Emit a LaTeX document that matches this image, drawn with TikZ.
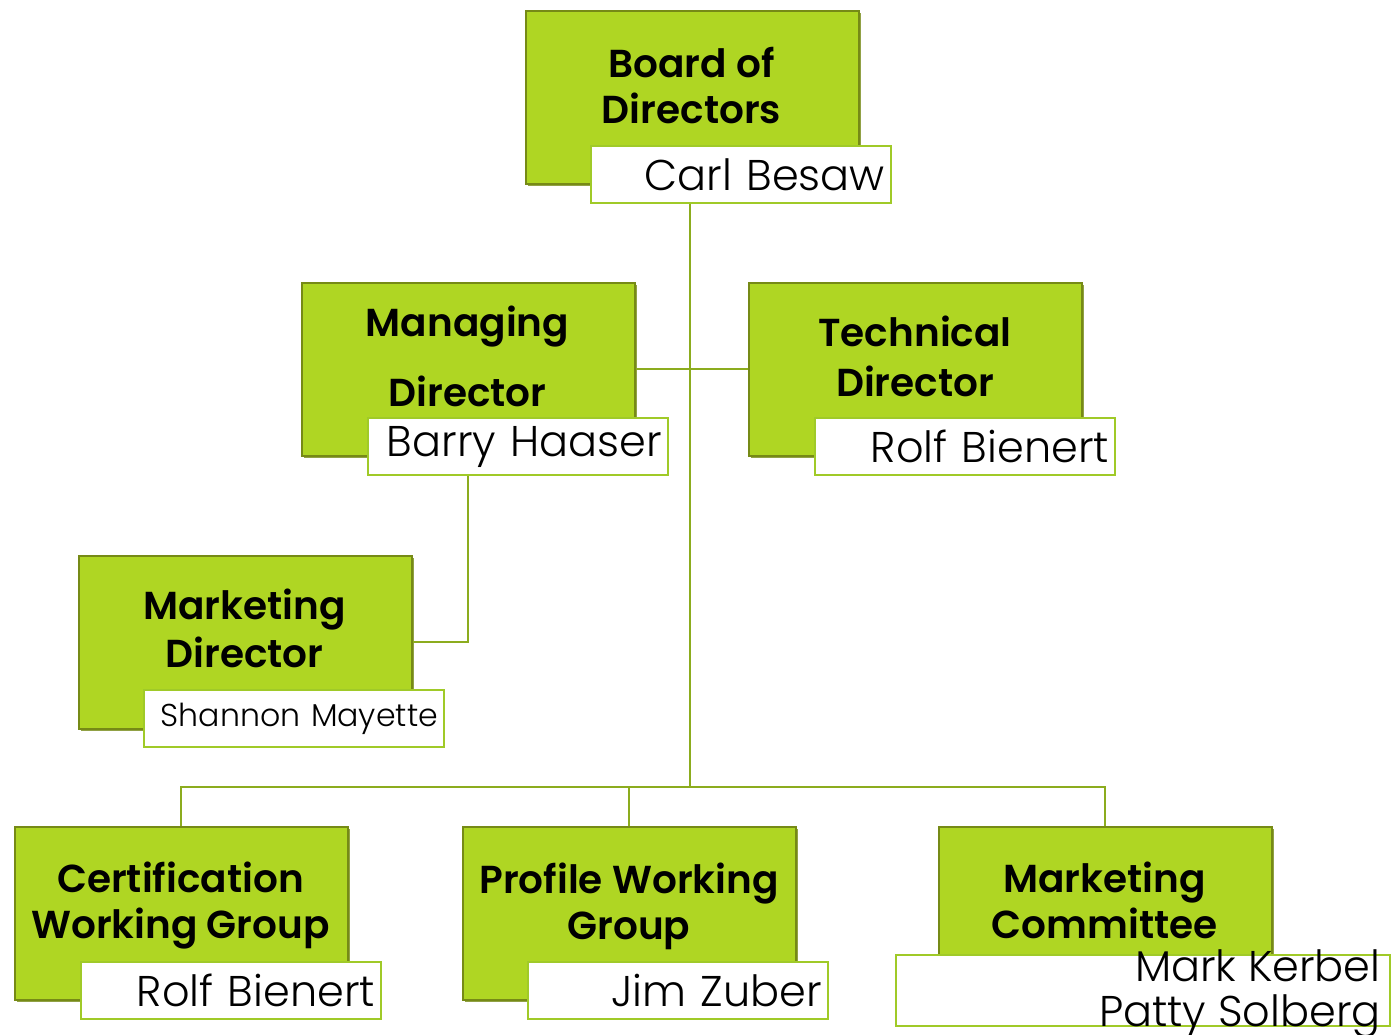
\documentclass[tikz,border=0pt]{standalone}
\usepackage{fontspec}
\setmainfont{Poppins}
\newfontfamily\titlefont{Poppins}[UprightFont=* SemiBold]
\newfontfamily\namefont{Poppins}[UprightFont=* Light]
\usepackage{xcolor}
\usetikzlibrary{positioning,shadows,calc}
\definecolor{unitgreen}{RGB}{175,214,35}
\definecolor{unitedge}{RGB}{118,138,22}
\definecolor{nameedge}{RGB}{160,202,40}
\definecolor{linkgreen}{RGB}{140,172,30}

\begin{document}
\begin{tikzpicture}[x=0.5pt,y=-0.5pt,
	unitbox/.style={fill=unitgreen, draw=unitedge, line width=0.8pt, minimum width=166.5pt, minimum height=86.5pt, inner sep=0pt,
		drop shadow={shadow xshift=1pt, shadow yshift=-1pt, fill=unitedge, opacity=0.8}},
	titletext/.style={font=\titlefont\fontsize{19.5}{23}\selectfont, align=center, inner sep=0pt},
	namebox/.style={fill=white, draw=nameedge, line width=1pt, minimum width=150pt, minimum height=28.5pt, text width=144pt, align=right,
		inner sep=2pt, font=\namefont\fontsize{21.5}{23}\selectfont},
	link/.style={draw=linkgreen, line width=1pt}]
\useasboundingbox (0,0) rectangle (1392,1034);

% top level
\node[unitbox, anchor=north west] (board) at (525,10) {};
\node[titletext] (boardT) at (691.5,85) {Board of\\Directors};
\node[namebox, anchor=north west] (boardN) at (590,145) {Carl Besaw};

% directors
\node[unitbox, anchor=north west] (mgd) at (301,282) {};
\node[titletext] (mgdT) at (467.5,356) {Managing\\[12pt]Director};
\node[namebox, anchor=north west] (mgdN) at (367,417) {Barry Haaser};

\node[unitbox, anchor=north west] (tech) at (748,282) {};
\node[titletext] (techT) at (915,356) {Technical\\[2pt]Director};
\node[namebox, anchor=north west] (techN) at (814,417) {Rolf Bienert};

\node[unitbox, anchor=north west] (mkd) at (78,555) {};
\node[titletext] (mkdT) at (244.5,628) {Marketing\\[1pt]Director};
\node[namebox, anchor=north west, font=\namefont\fontsize{15.8}{17}\selectfont] (mkdN) at (143,689) {Shannon Mayette};

% working groups
\node[unitbox, anchor=north west] (cert) at (14,826) {};
\node[titletext] (certT) at (180.5,906) {Certification\\Working Group};
\node[namebox, anchor=north west] (certN) at (80,961) {Rolf Bienert};

\node[unitbox, anchor=north west] (prof) at (462,826) {};
\node[titletext] (profT) at (629,906) {Profile Working\\Group};
\node[namebox, anchor=north west] (profN) at (527,961) {Jim Zuber};

\node[unitbox, anchor=north west] (comm) at (938,826) {};
\node[titletext] (commT) at (1104.5,900) {Marketing\\Committee};
\node[namebox, anchor=north west, minimum width=247pt, minimum height=35.5pt] (commN) at (895,954) {};
\node[anchor=north east, align=right, inner sep=0pt, font=\namefont\fontsize{21.5}{22.5}\selectfont] (commL) at (1381,949) {Mark Kerbel\\Patty Solberg};

% connectors
\coordinate (hub) at (690,787);
\draw[link] (boardN.south -| hub) -- (hub);
\draw[link] (mgd.east) -- (tech.west);
\draw[link] (mgd.south |- mgdN.south) |- (mkd.east);
\draw[link] (cert.north) |- (hub) -| (comm.north);
\draw[link] (prof.north) -- (prof.north |- hub);

\end{tikzpicture}
\end{document}
